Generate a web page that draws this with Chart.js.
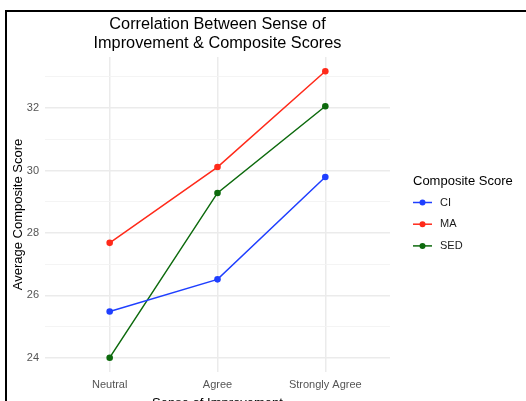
<!DOCTYPE html>
<html>
<head>
<meta charset="utf-8">
<script src="https://cdn.jsdelivr.net/npm/chart.js@4.4.1/dist/chart.umd.min.js"></script>
<style>
  html, body { margin: 0; padding: 0; background: #fff; overflow: hidden; }
  #wrap { position: relative; width: 526px; height: 401px; overflow: hidden; }
  #frame { position: absolute; left: 5px; top: 10px; width: 700px; height: 600px;
           border-left: 2px solid #000; border-top: 2px solid #000; pointer-events: none; }
  canvas { position: absolute; left: 0; top: 0; }
</style>
</head>
<body>
<div id="wrap">
  <canvas id="chart" width="526" height="411"></canvas>
  <div id="frame"></div>
</div>
<script>
// data
const categories = ['Neutral', 'Agree', 'Strongly Agree'];
const ciScores = [25.48, 26.51, 29.79];
const maScores = [27.68, 30.11, 33.18];
const sedScores = [24.0, 29.28, 32.06];
const yMajorTicks = [24, 26, 28, 30, 32];
const yMinorTicks = [25, 27, 29, 31, 33];
const seriesNames = ['CI', 'MA', 'SED'];

const colors = { CI: '#1f3fff', MA: '#ff2a1a', SED: '#0d6a0d' };
const font = "'Liberation Sans', Arial, Helvetica, sans-serif";

Chart.defaults.font.family = font;

// ggplot style expansion of the axes
const allValues = ciScores.concat(maScores, sedScores);
const yLo = Math.min(...allValues);
const yHi = Math.max(...allValues);
const yPad = (yHi - yLo) * 0.05;

function points(values) {
  return categories.map((c, i) => ({ x: i, y: values[i] }));
}

function makeSet(name, values) {
  return {
    label: name,
    data: points(values),
    borderColor: colors[name],
    backgroundColor: colors[name],
    borderWidth: 1.5,
    pointRadius: 3.3,
    pointBorderWidth: 0,
    tension: 0,
  };
}

// legend drawn by hand, ggplot style (line with a dot through it)
const sideLegend = {
  id: 'sideLegend',
  afterDraw(chart) {
    const c = chart.ctx;
    c.save();
    c.fillStyle = '#000';
    c.font = `13px ${font}`;
    c.textAlign = 'left';
    c.textBaseline = 'middle';
    c.fillText('Composite Score', 413, 181);
    chart.data.datasets.forEach((ds, i) => {
      const y = 202.5 + i * 21.7;
      c.strokeStyle = ds.borderColor;
      c.lineWidth = 1.5;
      c.beginPath();
      c.moveTo(413, y);
      c.lineTo(432, y);
      c.stroke();
      c.fillStyle = ds.borderColor;
      c.beginPath();
      c.arc(422.5, y, 3, 0, Math.PI * 2);
      c.fill();
      c.fillStyle = '#1a1a1a';
      c.font = `11px ${font}`;
      c.fillText(ds.label, 440, y);
    });
    c.restore();
  },
};

new Chart(document.getElementById('chart'), {
  type: 'line',
  data: {
    datasets: [
      makeSet(seriesNames[0], ciScores),
      makeSet(seriesNames[1], maScores),
      makeSet(seriesNames[2], sedScores),
    ],
  },
  options: {
    responsive: false,
    animation: false,
    devicePixelRatio: 1,
    layout: { padding: { left: 0, right: 136, top: 0, bottom: 0 } },
    plugins: {
      legend: { display: false },
      tooltip: { enabled: false },
      title: {
        display: true,
        fullSize: false,
        text: ['Correlation Between Sense of', 'Improvement & Composite Scores'],
        color: '#000',
        font: { size: 16.3, weight: 'normal', lineHeight: 1.18 },
        padding: { top: 14.5, bottom: 4 },
      },
    },
    scales: {
      x: {
        type: 'linear',
        min: -0.6,
        max: categories.length - 1 + 0.6,
        afterBuildTicks: (s) => { s.ticks = categories.map((c, i) => ({ value: i })); },
        afterFit: (s) => { s.height = 411 - 372; },
        border: { display: false },
        grid: { color: '#ebebeb', lineWidth: 1.5, drawTicks: false },
        ticks: {
          color: '#555',
          font: { size: 11 },
          padding: 6,
          maxRotation: 0,
          autoSkip: false,
          callback: (v) => categories[v],
        },
        title: {
          display: true,
          text: 'Sense of Improvement',
          color: '#000',
          font: { size: 13 },
          padding: { top: 4, bottom: 0 },
        },
      },
      y: {
        type: 'linear',
        min: yLo - yPad,
        max: yHi + yPad,
        afterBuildTicks: (s) => {
          s.ticks = yMajorTicks.concat(yMinorTicks).sort((a, b) => a - b).map((v) => ({ value: v }));
        },
        afterFit: (s) => { s.width = 45; },
        border: { display: false },
        grid: {
          drawTicks: false,
          color: (ctx) => (yMajorTicks.includes(ctx.tick && ctx.tick.value) ? '#ebebeb' : '#f3f3f3'),
          lineWidth: (ctx) => (yMajorTicks.includes(ctx.tick && ctx.tick.value) ? 1.5 : 0.9),
        },
        ticks: {
          color: '#555',
          font: { size: 11 },
          padding: 6,
          autoSkip: false,
          callback: (v) => (yMajorTicks.includes(v) ? String(v) : ''),
        },
        title: {
          display: true,
          text: 'Average Composite Score',
          color: '#000',
          font: { size: 13 },
          padding: { top: 11, bottom: 0 },
        },
      },
    },
  },
  plugins: [sideLegend],
});
</script>
</body>
</html>
